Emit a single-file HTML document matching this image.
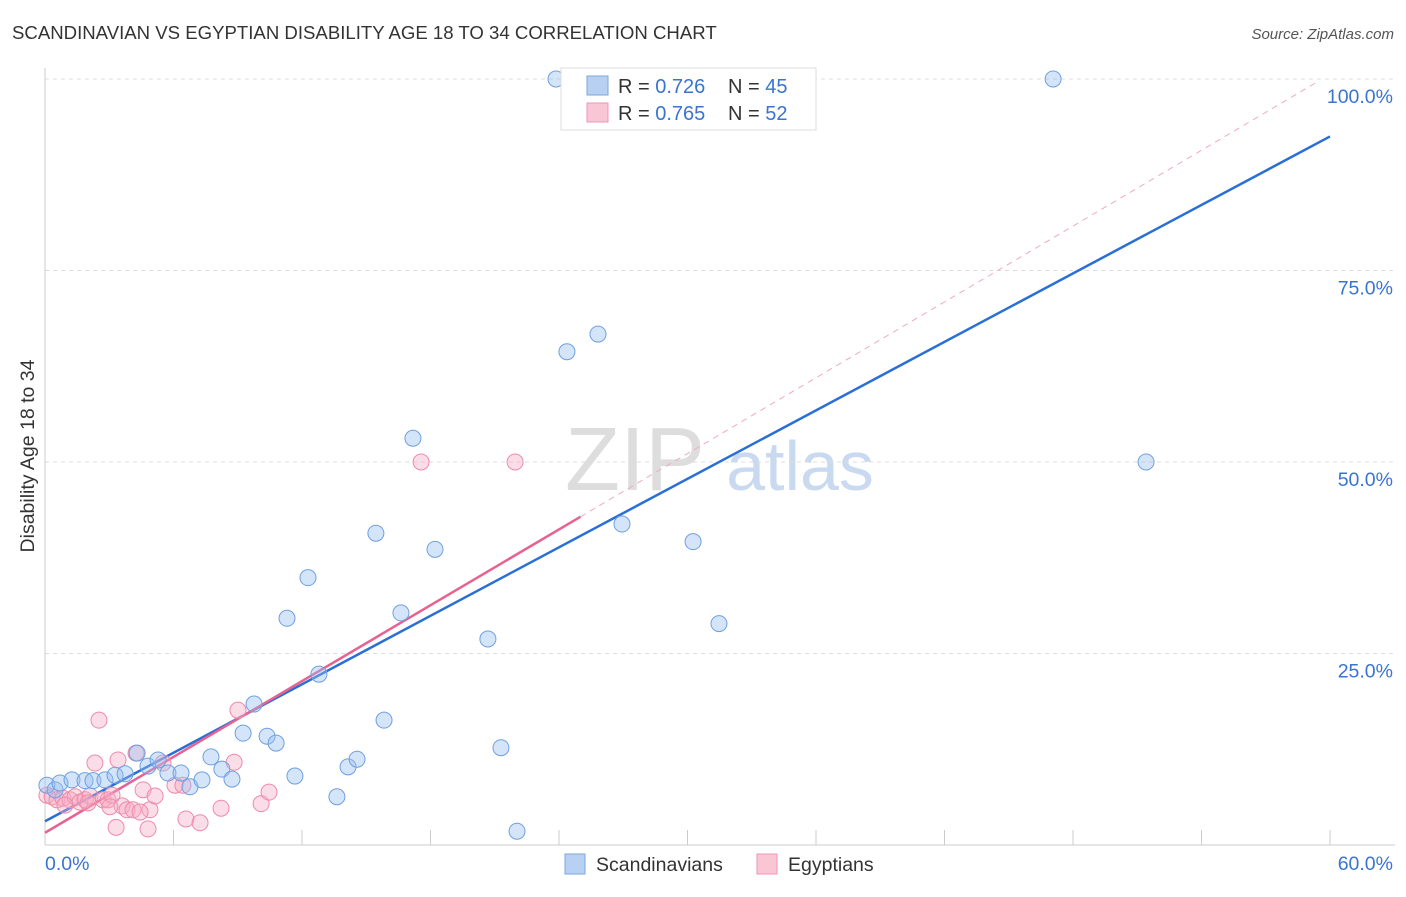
<!DOCTYPE html>
<html><head><meta charset="utf-8"><style>
body{margin:0;background:#fff;font-family:"Liberation Sans",sans-serif;}
svg text{font-family:"Liberation Sans",sans-serif;}
</style></head><body>
<svg id="chart" width="1406" height="892" xmlns="http://www.w3.org/2000/svg">
<text x="12" y="39" font-size="18.6" fill="#333">SCANDINAVIAN VS EGYPTIAN DISABILITY AGE 18 TO 34 CORRELATION CHART</text>
<text x="1394" y="39" font-size="15" fill="#555" text-anchor="end" font-style="italic">Source: ZipAtlas.com</text>
<text x="34" y="456" font-size="19.5" fill="#333" text-anchor="middle" transform="rotate(-90 34 456)">Disability Age 18 to 34</text>
<g><text x="635" y="490" font-size="90" fill="#ddd" text-anchor="middle" font-family="Liberation Serif">ZIP</text><text x="800" y="490" font-size="70" fill="#c9daf0" text-anchor="middle">atlas</text></g>
<g id="grid"></g><g id="axes"></g><g id="lines"></g><g id="pts"></g>
<g>
<rect x="561" y="68" width="255" height="62" fill="#fff" stroke="#ddd"/>
<rect x="587" y="76" width="21" height="19" fill="#b8d1f3" stroke="#7aa7e0"/>
<rect x="587" y="103" width="21" height="19" fill="#f9c6d6" stroke="#ee95b2"/>
<text x="618" y="93" font-size="20" fill="#333">R = <tspan fill="#3a74d0">0.726</tspan></text>
<text x="728" y="93" font-size="20" fill="#333">N = <tspan fill="#3a74d0">45</tspan></text>
<text x="618" y="120" font-size="20" fill="#333">R = <tspan fill="#3a74d0">0.765</tspan></text>
<text x="728" y="120" font-size="20" fill="#333">N = <tspan fill="#3a74d0">52</tspan></text>
</g>
<g>
<rect x="565" y="854" width="20" height="20" fill="#b8d1f3" stroke="#7aa7e0"/>
<text x="596" y="871" font-size="19.5" fill="#333">Scandinavians</text>
<rect x="757" y="854" width="20" height="20" fill="#f9c6d6" stroke="#ee95b2"/>
<text x="788" y="871" font-size="19.5" fill="#333">Egyptians</text>
</g>
</svg>
<script>
const blueX=[0.09,0.47,0.7,1.26,1.87,2.24,2.8,3.27,3.74,4.3,4.81,5.28,5.74,6.35,6.77,7.33,7.75,8.26,8.73,9.25,9.76,10.37,10.79,11.3,11.67,12.28,12.79,13.63,14.15,14.57,15.45,15.83,16.62,17.18,18.21,20.68,21.29,22.04,23.86,24.37,25.82,26.94,30.26,31.47,47.07,51.41];
const blueY=[7.8,7.2,8.1,8.5,8.4,8.4,8.5,9.1,9.3,12.0,10.3,11.1,9.4,9.4,7.6,8.5,11.5,9.9,8.6,14.6,18.4,14.2,13.3,29.6,9.0,34.9,22.3,6.3,10.2,11.2,40.7,16.3,30.3,53.1,38.6,26.9,12.7,1.8,100,64.4,66.7,41.9,39.6,28.9,100,50];
const pinkX=[0.09,0.33,0.56,0.84,1.17,1.4,1.63,1.87,2.1,2.33,2.52,2.71,2.94,3.13,3.32,3.41,3.6,3.83,4.11,4.25,4.58,4.81,4.9,5.14,5.51,6.07,6.44,6.58,7.24,8.22,8.83,9.01,10.09,10.46,17.56,21.95,2.01,3.03,4.44,0.93];
const pinkY=[6.5,6.3,5.9,6.1,5.9,6.3,5.6,5.9,6.4,10.7,16.3,5.9,5.9,6.5,2.3,11.1,5.1,4.6,4.6,12.0,7.2,2.1,4.6,6.4,10.7,7.8,7.8,3.4,2.9,4.8,10.8,17.6,5.4,6.9,50,50,5.5,5.0,4.3,5.2];
const yTicks=[25,50,75,100];
const yTickLabels=["25.0%","50.0%","75.0%","100.0%"];
const xTickLabels=["0.0%","60.0%"];
const blueTrend=[3.1,1.49];
const pinkTrend=[1.6,1.65];
const X=v=>45+v*21.417, Y=v=>845-v*7.66;
const NS="http://www.w3.org/2000/svg";
function mk(tag,attrs,parent){const e=document.createElementNS(NS,tag);for(const k in attrs)e.setAttribute(k,attrs[k]);document.getElementById(parent).appendChild(e);return e;}
yTicks.forEach((t,i)=>{
 const g=mk('line',{x1:45,x2:1395,y1:Y(t),y2:Y(t),stroke:'#ddd','stroke-dasharray':'4,4'},'grid');
 
 
 const l=mk('text',{x:1393,y:Y(t)+24,'font-size':19.5,fill:'#3a74d0','text-anchor':'end'},'axes');l.textContent=yTickLabels[i];
 
 
});
mk('line',{x1:45,x2:45,y1:68,y2:845,stroke:'#ccc'},'axes');
mk('line',{x1:45,x2:1395,y1:845,y2:845,stroke:'#ccc'},'axes');
for(let i=0;i<=10;i++){const t=mk('line',{x1:X(i*6),x2:X(i*6),y1:830,y2:845,stroke:'#ccc'},'axes');
 
 }
[[0,45,'start'],[60,1393,'end']].forEach((d,i)=>{const t=mk('text',{x:d[1],y:870,'font-size':19.5,fill:'#3a74d0','text-anchor':d[2]},'axes');t.textContent=xTickLabels[i];
 
 });
function pts(xs,ys,fill,stroke,name){xs.forEach((x,i)=>{const c=mk('circle',{cx:X(x),cy:Y(ys[i]),r:8,fill:fill,stroke:stroke,'stroke-width':1},'pts');
 
 });}
pts(pinkX,pinkY,'rgba(245,170,195,0.4)','#f08aaa','egyptian-point');
pts(blueX,blueY,'rgba(150,190,240,0.4)','#6fa0e0','scandinavian-point');
const bl=mk('line',{x1:X(0),y1:Y(blueTrend[0]),x2:X(60),y2:Y(blueTrend[0]+blueTrend[1]*60),stroke:'#2a6fd6','stroke-width':2.5},'lines');


const pe=25;
const pl=mk('line',{x1:X(0),y1:Y(pinkTrend[0]),x2:X(pe),y2:Y(pinkTrend[0]+pinkTrend[1]*pe),stroke:'#e8628f','stroke-width':2.5},'lines');


const pd=mk('line',{x1:X(pe),y1:Y(pinkTrend[0]+pinkTrend[1]*pe),x2:X(59.3),y2:Y(pinkTrend[0]+pinkTrend[1]*59.3),stroke:'#eeaabf','stroke-width':1,'stroke-dasharray':'6,5'},'lines');


</script>
</body></html>
